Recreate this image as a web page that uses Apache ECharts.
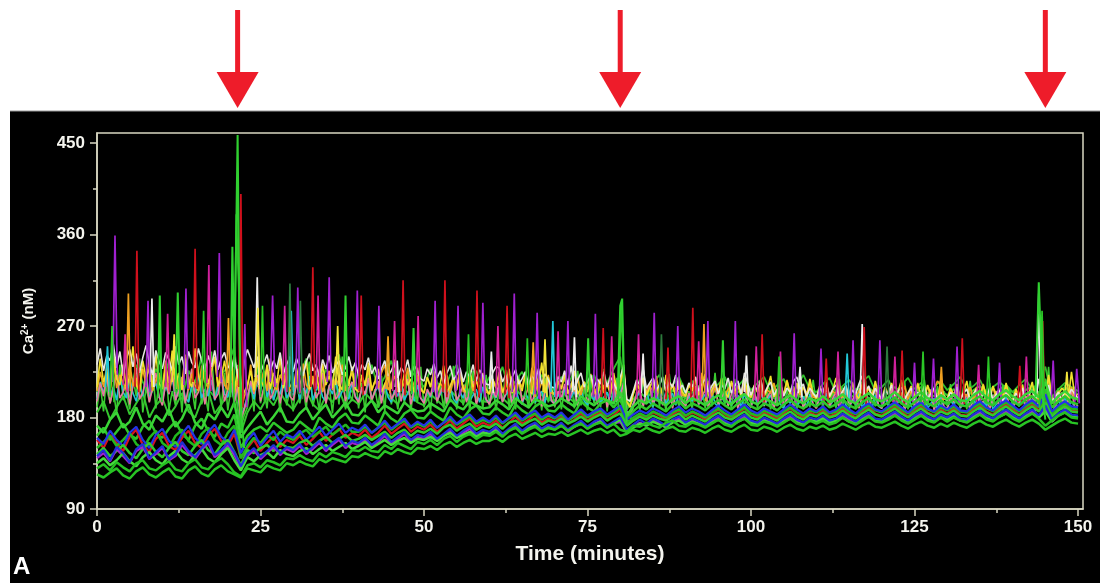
<!DOCTYPE html>
<html>
<head>
<meta charset="utf-8">
<script src="https://cdn.jsdelivr.net/npm/echarts@6/dist/echarts.min.js"></script>
<style>
  html, body { margin: 0; padding: 0; background: #ffffff; }
  #chart { width: 1100px; height: 583px; }
</style>
</head>
<body>
<div id="chart"></div>
<script>
// Axis ticks and stimulus times (minutes)
const xTicks = [0, 25, 50, 75, 100, 125, 150];
const xMinorTicks = [12.5, 37.5, 62.5, 87.5, 112.5, 137.5];
const yTicks = [90, 180, 270, 360, 450];
const yMinorTicks = [135, 225, 315, 405];
const stimulusTimes = [21.5, 80, 145];

// ---- Cells near baseline: one sample per minute (t = 0 ... 150), Ca2+ in nM ----
const MINUTE_STEP = 1;

const green1 = [
  124,121,126,130,123,120,127,131,124,121, 126,130,122,120,128,132,125,122,129,133,
  127,124,121,130,128,126,133,130,128,135, 133,137,134,132,139,136,140,138,136,142,
  141,145,142,140,147,144,149,146,144,150, 149,152,148,153,156,151,155,158,154,157,
  157,160,156,161,164,159,162,165,161,164, 163,166,162,165,168,164,167,169,165,168,
  162,164,168,166,170,167,165,169,171,167, 166,170,168,165,169,172,168,166,170,173,
  168,167,171,169,166,170,173,169,167,171, 169,172,168,170,174,171,168,172,175,171,
  170,173,176,172,169,173,176,172,170,174, 171,175,172,170,174,177,173,171,175,178,
  174,171,175,178,174,168,172,176,179,175, 174
];
const green6 = [
  130,134,128,136,131,127,135,138,130,128, 133,137,129,127,135,139,131,129,136,140,
  134,126,122,133,135,131,138,136,133,140, 139,143,139,137,145,141,146,144,141,148,
  147,151,147,146,153,149,155,152,149,156, 154,158,153,159,162,156,161,164,159,163,
  162,166,161,167,170,164,168,171,166,170, 168,172,167,171,174,169,173,175,170,174,
  168,166,172,171,175,172,170,175,177,172, 171,175,173,170,174,178,173,171,176,179,
  173,172,176,174,171,175,179,174,172,177, 174,177,173,175,180,176,173,177,181,176,
  175,178,182,177,174,178,182,177,175,180, 176,180,177,175,179,183,178,176,181,184,
  179,176,180,184,179,172,177,182,185,180, 179
];
const green2 = [
  135,140,133,138,145,137,132,141,146,138, 134,142,147,139,135,143,149,140,136,144,
  150,138,128,141,137,143,146,140,148,144, 142,147,150,144,149,153,147,151,155,149,
  152,156,150,154,158,153,157,160,155,159, 158,161,157,162,165,160,163,166,161,165,
  164,167,163,168,170,166,169,172,167,170, 169,172,168,171,174,170,173,176,171,174,
  178,166,170,174,172,176,173,171,175,177, 173,176,174,171,175,178,174,172,176,179,
  175,173,177,175,172,176,179,175,173,177, 176,179,175,177,180,176,174,178,181,177,
  176,179,182,178,175,179,182,178,176,180, 178,181,177,176,180,183,179,177,181,184,
  180,177,181,184,180,186,176,182,185,181, 180
];
const green7 = [
  144,150,142,147,153,145,140,149,155,146, 141,150,156,147,143,152,158,148,144,153,
  158,146,133,148,145,150,153,147,155,151, 150,155,158,152,157,161,155,159,163,157,
  159,163,158,162,166,160,165,168,162,167, 165,169,164,170,173,167,171,174,168,172,
  170,174,169,175,177,172,176,179,173,177, 175,179,174,177,181,176,180,183,177,181,
  184,172,177,181,178,182,179,177,181,184, 178,182,179,176,181,185,180,178,182,186,
  180,178,183,180,177,182,186,181,178,183, 181,185,180,182,187,182,179,184,188,183,
  181,185,189,184,180,185,189,184,181,186, 183,187,182,181,186,190,185,182,187,191,
  186,182,187,191,186,195,181,187,191,186, 185
];
const green3 = [
  150,156,162,152,158,165,154,149,160,167, 155,150,162,168,157,152,164,170,158,153,
  165,172,140,152,160,155,163,158,166,161, 158,164,168,161,166,171,163,168,173,166,
  166,171,165,170,175,168,173,177,170,174, 171,176,170,175,179,173,177,181,174,178,
  175,180,174,179,183,177,181,184,178,182, 179,183,177,181,186,180,184,187,181,185,
  190,174,180,184,181,186,183,180,185,188, 182,186,183,180,185,189,184,181,186,190,
  184,182,187,184,181,186,190,185,182,187, 185,189,184,186,191,186,183,188,192,187,
  185,189,193,188,184,189,193,188,185,190, 187,191,186,185,190,194,189,186,191,195,
  190,186,191,195,190,200,184,190,194,189, 188
];
const green8 = [
  162,170,158,166,174,163,159,171,177,165, 160,169,176,164,158,172,179,167,161,174,
  170,183,150,162,168,171,166,175,170,165, 168,176,171,166,180,174,170,179,184,175,
  174,182,177,172,186,179,175,184,188,180, 179,186,181,177,190,183,179,188,192,184,
  183,190,185,181,193,187,183,191,195,187, 186,193,188,184,196,190,186,194,197,190,
  198,180,186,192,188,194,190,186,193,196, 189,194,191,187,193,197,192,188,194,198,
  191,188,194,191,187,193,197,192,189,194, 191,196,190,193,198,192,189,195,199,193,
  191,195,200,194,190,195,200,194,191,197, 193,198,192,191,197,201,195,192,198,202,
  196,192,198,201,195,208,190,196,201,195, 193
];
const green4 = [
  172,165,178,185,170,176,190,174,168,182, 176,188,171,179,193,175,169,184,178,190,
  180,195,160,170,178,186,173,181,190,176, 175,184,190,178,186,193,180,187,195,183,
  182,190,197,185,192,188,184,195,189,186, 187,194,190,186,198,191,188,196,192,189,
  190,197,193,188,199,194,190,198,195,191, 193,199,195,191,201,196,192,199,197,194,
  205,182,191,197,194,199,196,192,198,201, 194,199,196,192,198,202,197,193,199,203,
  196,193,199,196,192,198,202,197,194,199, 196,201,195,198,203,197,194,200,204,198,
  196,200,205,199,195,200,205,199,196,202, 198,203,197,196,202,206,200,197,203,207,
  201,197,203,206,200,215,194,201,206,200, 198
];
const green9 = [
  185,196,178,190,201,183,194,205,180,192, 199,182,191,204,186,180,197,207,184,193,
  202,215,165,185,196,188,200,192,205,194, 188,199,206,193,187,202,195,208,190,198,
  193,204,197,190,206,199,193,208,201,195, 192,203,197,191,207,200,194,209,199,196,
  195,205,199,193,208,201,196,210,202,197, 197,206,200,195,209,202,198,211,203,199,
  212,188,198,205,199,206,201,197,207,202, 199,205,201,197,204,208,202,198,205,209,
  201,198,205,201,197,204,208,202,199,205, 201,206,200,203,209,203,199,205,210,203,
  200,205,210,204,199,205,210,204,201,207, 202,208,201,200,207,211,205,201,208,212,
  205,201,207,211,204,218,198,205,210,204, 203
];
const green5 = [
  205,218,196,225,210,200,232,215,204,228, 212,236,205,198,226,214,240,208,200,222,
  230,250,175,200,215,208,225,212,220,232, 210,222,238,215,206,228,216,242,212,205,
  225,214,232,208,220,236,212,205,226,218, 210,228,215,205,222,232,210,218,226,207,
  220,212,230,208,216,225,211,205,222,214, 206,220,212,226,208,215,222,205,214,228,
  240,190,205,218,208,214,222,206,212,220, 205,216,210,222,206,213,220,204,211,218,
  207,214,220,205,212,218,204,210,222,208, 205,213,219,204,211,217,207,215,221,206,
  210,217,204,212,219,208,214,203,210,216, 207,213,220,206,211,217,204,210,215,209,
  205,212,218,207,216,230,200,208,214,210, 206
];
const blue1 = [
  142,148,138,151,145,136,149,154,140,146, 152,139,144,156,147,141,150,157,143,148,
  155,146,132,144,150,141,147,153,145,151, 148,154,146,151,157,149,155,160,152,157,
  155,160,153,158,164,156,161,166,158,163, 161,166,159,164,169,162,167,171,164,168,
  166,171,164,169,174,167,172,175,169,173, 170,175,168,173,177,171,176,179,172,176,
  180,168,173,178,174,179,176,172,178,181, 175,179,176,173,178,182,177,174,179,183,
  177,175,180,177,174,179,183,178,175,180, 178,182,177,179,184,180,176,181,185,179,
  178,182,186,181,177,182,186,181,178,183, 180,184,179,178,183,187,182,179,184,188,
  183,179,184,188,182,192,178,184,188,183, 182
];
const blue2 = [
  160,154,167,158,152,165,171,158,150,163, 169,157,151,164,172,160,154,166,173,161,
  156,168,145,158,165,152,160,167,156,163, 160,167,158,164,171,162,168,174,165,170,
  167,173,165,170,177,169,174,179,171,176, 172,178,170,175,181,174,179,183,176,180,
  176,182,175,180,185,178,183,187,180,184, 180,185,178,183,188,182,186,189,183,187,
  192,178,183,187,184,189,186,182,187,191, 185,189,186,182,187,192,187,183,188,193,
  187,184,189,186,183,188,193,188,184,189, 186,191,185,188,193,188,184,190,194,188,
  186,191,195,190,185,191,195,189,186,192, 188,193,187,186,192,196,190,187,193,197,
  192,187,193,197,191,203,186,192,196,191, 190
];
const red1 = [
  158,150,163,155,147,161,168,153,146,159, 165,152,148,160,167,155,150,162,169,157,
  152,164,140,150,158,147,155,161,151,158, 155,162,153,159,166,157,163,169,160,165,
  162,168,160,165,172,164,169,174,166,171, 168,173,166,171,177,169,174,179,171,175,
  172,177,170,175,181,174,178,183,175,179, 176,181,174,178,184,177,182,185,178,182,
  188,174,179,183,180,185,182,178,183,187, 181,185,182,178,183,188,183,179,184,189,
  183,180,185,182,179,184,189,184,180,185, 182,187,181,184,189,184,180,186,190,184,
  182,187,191,186,181,187,191,185,182,188, 184,189,183,182,188,192,186,183,189,193,
  188,183,189,193,187,198,182,188,192,187, 186
];
const purple1 = [
  140,145,137,149,142,135,147,151,139,144, 150,138,142,153,145,139,148,155,141,146,
  153,143,130,142,148,139,145,151,143,149, 146,152,144,149,155,147,153,158,150,155,
  153,158,151,156,162,154,159,164,156,161, 159,164,157,162,167,160,165,169,162,166,
  164,169,162,167,172,165,170,173,167,171, 168,173,166,171,175,169,174,177,170,174,
  176,165,171,175,172,177,174,170,176,179, 173,177,174,171,176,180,175,172,177,181,
  175,173,178,175,172,177,181,176,173,178, 176,180,175,177,182,178,174,179,183,177,
  176,180,184,179,175,180,184,179,176,181, 178,182,177,176,181,185,180,177,182,186,
  181,177,182,186,180,190,176,182,186,181, 180
];

// ---- Active cells: two samples per minute (t = 0, 0.5 ... 150) ----
const HALF_MINUTE_STEP = 0.5;

const yellow1 = [
  210,238,215,225,206,244,218,212,232,208,221,250,212,206,236,219,228,210,242,214,
  208,230,214,246,211,224,207,238,216,210,248,222,209,233,213,226,240,211,219,236,
  214,242,205,228,190,205,212,226,207,236,218,210,232,208,224,214,239,209,221,212,
  207,229,213,220,236,208,215,226,206,233,212,221,209,240,214,207,225,211,230,208,
  206,222,211,234,207,216,228,205,213,220,208,237,210,206,224,212,218,205,229,209,
  204,220,210,226,206,214,231,205,211,219,207,224,209,204,227,210,216,205,222,208,
  203,218,209,225,205,212,228,204,210,217,206,222,208,203,230,209,234,204,220,207,
  202,216,208,223,204,211,226,203,209,215,205,221,207,202,218,208,213,203,224,206,
  212,232,196,190,203,214,208,219,202,210,216,204,212,202,222,206,211,201,217,205,
  201,213,206,220,202,209,223,201,207,214,203,218,205,200,216,206,211,201,219,204,
  200,212,205,217,201,208,221,200,206,213,202,216,204,199,214,205,210,200,218,203,
  199,211,204,215,200,207,219,199,205,212,201,214,203,198,213,204,209,199,216,202,
  198,210,203,214,199,206,217,198,204,211,200,213,202,197,212,203,208,198,215,201,
  198,209,202,213,198,205,216,197,203,210,199,212,201,197,211,202,207,198,214,200,
  197,208,201,212,198,204,215,197,202,209,196,222,200,192,203,209,206,197,225,201,
  203
];
const orange1 = [
  206,225,210,231,204,238,209,222,214,207,235,211,219,205,228,212,240,206,217,224,
  210,236,205,220,229,208,214,242,207,223,212,206,231,215,209,226,238,210,230,212,
  207,228,203,217,185,200,209,232,205,219,213,226,206,238,211,207,222,214,229,206,
  209,224,205,233,212,207,221,209,228,205,215,226,207,219,211,232,206,217,224,208,
  205,220,212,227,206,216,209,224,232,207,213,221,205,218,210,229,206,215,222,207,
  204,219,210,225,205,214,208,222,204,217,211,227,205,213,220,206,216,209,224,205,
  203,218,209,223,204,213,207,221,203,216,210,225,204,229,219,205,215,208,222,204,
  202,216,208,221,203,212,206,219,202,215,209,223,203,211,218,204,214,207,220,203,
  214,226,195,192,204,212,207,218,202,211,206,221,203,210,215,204,213,206,218,202,
  201,212,206,217,202,224,205,216,201,209,204,219,202,208,213,203,211,205,216,201,
  200,210,205,215,201,207,204,214,200,208,203,217,201,207,212,202,210,204,214,200,
  199,209,204,213,200,206,203,212,199,207,202,215,200,206,211,201,209,203,213,199,
  198,208,203,212,199,205,202,211,198,206,201,214,199,205,210,200,208,216,212,198,
  198,207,202,211,198,204,201,210,197,205,200,213,198,204,209,199,207,202,211,198,
  197,206,201,210,197,203,200,209,196,204,198,220,194,200,206,198,205,201,210,197,
  200
];
const white1 = [
  232,248,226,241,236,252,229,245,221,238,247,230,243,224,239,251,233,222,246,235,
  228,244,237,226,250,232,240,223,245,234,229,248,236,225,241,230,246,227,238,244,
  231,226,240,222,205,235,247,238,229,240,224,233,242,226,236,228,244,223,232,240,
  225,238,230,221,235,243,226,232,220,237,228,241,224,231,236,222,229,240,226,234,
  221,232,227,239,223,230,218,228,236,221,226,234,219,229,224,237,220,231,226,218,
  216,228,222,233,219,226,213,224,231,217,222,229,215,225,220,232,216,227,221,213,
  212,224,230,229,215,222,210,220,227,213,218,225,212,221,216,228,213,223,217,210,
  209,220,215,226,212,231,207,217,224,210,215,222,209,218,213,225,210,220,214,207,
  220,230,198,196,206,217,212,228,209,214,219,207,212,220,206,215,210,222,207,212,
  204,214,210,220,206,213,218,205,211,216,203,212,208,219,204,211,216,203,224,213,
  202,211,207,217,203,210,215,202,208,213,201,209,205,216,220,208,213,201,209,204,
  200,209,205,214,201,208,212,200,206,211,199,207,203,213,221,206,211,199,209,203,
  198,207,203,212,199,206,210,198,204,209,197,205,201,211,198,204,209,197,205,201,
  197,205,201,210,198,204,208,197,203,208,196,204,200,209,197,203,207,196,204,200,
  196,204,200,209,197,203,207,196,218,206,195,212,196,200,205,197,206,201,208,203,
  199
];
const cyan1 = [
  198,215,203,226,200,210,197,221,205,199,218,204,196,212,201,224,199,207,214,200,
  197,211,203,220,198,206,216,200,195,213,204,223,199,208,201,217,197,210,222,203,
  200,214,196,209,180,190,201,212,198,218,205,226,200,211,197,208,203,219,199,206,
  202,215,198,209,204,221,197,207,213,200,196,210,203,218,199,206,211,198,215,201,
  197,208,202,216,198,205,211,197,213,200,195,207,201,214,197,204,210,196,212,199,
  196,206,200,213,197,203,209,195,211,198,194,205,199,212,196,202,208,195,210,197,
  195,205,199,211,196,202,207,194,209,197,193,204,198,210,195,201,206,194,216,196,
  194,203,198,209,195,200,206,193,208,196,192,203,197,209,194,200,205,193,207,195,
  205,212,185,186,194,200,205,192,207,195,191,202,196,208,193,199,204,192,206,194,
  192,201,196,207,193,198,203,191,205,194,190,200,195,206,192,197,202,190,204,193,
  191,200,195,206,192,197,202,190,204,193,189,199,194,205,191,196,201,190,203,192,
  190,199,194,204,191,196,201,189,203,192,188,198,193,204,190,195,200,189,202,191,
  189,198,193,203,190,195,200,188,202,191,188,197,192,203,189,194,199,188,201,190,
  189,197,192,202,189,194,199,188,201,190,187,196,191,202,188,193,198,187,200,189,
  188,196,191,201,188,193,198,187,200,189,186,205,183,190,197,188,199,191,196,190,
  192
];
const pink1 = [
  196,214,201,222,194,208,226,199,205,217,193,211,229,198,204,219,195,209,224,200,
  192,215,203,226,197,206,220,194,210,228,199,205,218,193,212,225,198,203,221,196,
  207,224,195,211,178,188,199,216,203,222,196,209,230,198,205,218,194,212,226,201,
  197,213,204,222,195,208,219,199,206,224,193,211,217,198,203,221,196,209,215,200,
  195,210,203,219,197,206,216,194,212,221,198,204,214,196,209,218,193,207,220,199,
  194,208,201,217,196,205,213,193,210,219,197,203,212,195,207,216,192,206,218,198,
  193,207,200,215,195,204,211,192,209,217,196,202,210,194,206,214,191,205,216,197,
  192,206,199,213,194,203,210,191,208,215,195,201,209,193,205,212,190,204,214,196,
  200,214,184,182,193,202,208,190,206,213,194,200,207,192,204,211,189,203,212,195,
  191,204,198,211,193,201,207,189,205,212,193,199,206,191,203,210,188,202,211,194,
  190,203,197,210,192,200,206,188,204,211,192,198,205,190,202,209,188,201,210,193,
  189,202,196,209,191,199,205,188,203,210,191,197,204,189,201,208,187,200,209,192,
  189,201,195,208,190,198,204,187,202,209,190,196,203,189,200,207,187,199,208,191,
  188,200,195,207,190,197,203,187,201,208,190,196,202,188,199,206,186,198,207,191,
  188,199,194,206,189,197,202,186,200,207,189,203,182,190,198,205,186,197,206,190,
  192
];
const green10 = [
  190,212,186,225,194,208,183,232,197,205,188,219,201,238,185,209,196,227,189,214,
  199,234,187,206,192,221,185,240,196,210,188,228,193,204,186,245,198,215,190,224,
  187,210,195,232,170,182,190,216,186,236,194,208,189,225,197,213,185,230,192,207,
  186,222,194,209,188,235,191,205,187,228,195,212,184,219,193,240,188,206,196,224,
  189,214,185,229,195,208,190,221,186,233,193,207,188,218,194,227,187,211,195,230,
  190,206,186,224,194,212,189,219,195,231,188,208,192,217,186,226,195,210,189,222,
  191,215,187,208,196,227,190,213,188,220,194,206,189,225,193,211,187,218,195,209,
  190,221,188,207,195,214,189,226,192,209,187,217,194,205,190,228,186,212,193,219,
  196,232,178,176,190,205,187,220,193,211,188,216,191,207,186,223,194,209,189,214,
  192,206,188,219,194,210,189,215,191,224,187,208,193,212,188,218,192,206,189,213,
  193,209,189,216,191,205,188,213,192,220,189,207,194,211,187,215,191,206,190,217,
  191,210,188,214,193,206,189,218,190,208,192,213,188,209,193,216,189,205,191,212,
  192,207,189,213,190,209,193,215,188,206,191,212,189,217,192,208,190,211,188,206,
  191,213,189,207,192,211,188,216,190,208,193,210,189,214,191,206,188,212,192,209,
  190,208,191,213,189,206,192,211,190,215,188,230,180,196,209,191,212,189,207,210,
  195
];

// ---- Transient spikes: each spike is a short run of [time (min), Ca2+ (nM)] points ----
const purpleSpikes = [
  [[2.4,215],[2.75,359],[3.1,222]], [[7.5,210],[7.8,295],[8.1,205]],
  [[13.3,212],[13.6,307],[13.9,208]], [[18.4,220],[18.7,342],[19.0,215]],
  [[22.3,200],[22.6,272],[22.9,190]], [[26.5,215],[26.85,300],[27.2,210]],
  [[30.4,212],[30.7,308],[31.0,205]], [[35.2,215],[35.5,318],[35.8,208]],
  [[39.5,210],[39.8,305],[40.1,206]], [[42.8,208],[43.1,290],[43.4,203]],
  [[51.4,205],[51.7,295],[52.0,200]], [[54.9,206],[55.2,290],[55.5,202]],
  [[58.7,204],[59.0,293],[59.3,200]], [[63.5,205],[63.8,302],[64.1,200]],
  [[67.0,203],[67.3,283],[67.6,198]], [[71.7,202],[72.0,275],[72.3,198]],
  [[75.9,200],[76.2,282],[76.5,196]], [[84.9,200],[85.2,283],[85.5,196]],
  [[88.5,198],[88.8,270],[89.1,195]], [[93.1,200],[93.4,275],[93.7,196]],
  [[97.3,198],[97.6,275],[97.9,195]], [[106.3,198],[106.6,263],[106.9,194]],
  [[110.4,196],[110.7,248],[111.0,193]], [[115.3,197],[115.6,256],[115.9,194]],
  [[119.4,196],[119.7,256],[120.0,193]], [[124.7,195],[125.0,234],[125.3,192]],
  [[127.6,196],[127.9,238],[128.2,193]], [[131.2,196],[131.5,250],[131.8,193]],
  [[137.7,195],[138.0,234],[138.3,192]], [[145.9,196],[146.2,236],[146.5,192]],
  [[149.5,195],[149.8,228],[150.2,194]]
];
const magentaSpikes = [
  [[4.0,212],[4.3,262],[4.6,205]], [[10.5,210],[10.8,282],[11.1,205]],
  [[16.8,214],[17.1,330],[17.4,206]], [[28.4,212],[28.7,290],[29.0,205]],
  [[33.5,208],[33.8,300],[34.1,203]], [[45.2,206],[45.5,275],[45.8,200]],
  [[48.8,205],[49.1,280],[49.4,200]], [[61.0,202],[61.3,270],[61.6,198]],
  [[70.2,200],[70.5,265],[70.8,196]], [[78.4,200],[78.7,260],[79.0,196]],
  [[82.5,198],[82.8,262],[83.1,195]], [[91.7,198],[92.0,255],[92.3,195]],
  [[100.5,197],[100.8,250],[101.1,194]], [[104.2,197],[104.5,245],[104.8,193]],
  [[113.0,196],[113.3,245],[113.6,193]], [[121.7,195],[122.0,240],[122.3,192]],
  [[134.5,195],[134.8,232],[135.1,192]], [[141.8,195],[142.1,240],[142.4,192]]
];
const redSpikes = [
  [[5.8,210],[6.1,344],[6.4,205]], [[14.7,215],[15.0,346],[15.3,208]],
  [[21.7,210],[22.0,400],[22.3,190]], [[32.7,210],[33.0,328],[33.3,205]],
  [[40.1,206],[40.4,300],[40.7,202]], [[46.5,206],[46.8,315],[47.1,202]],
  [[52.9,205],[53.2,315],[53.5,200]], [[57.8,204],[58.1,305],[58.4,200]],
  [[62.4,203],[62.7,290],[63.0,199]], [[77.1,200],[77.4,268],[77.7,196]],
  [[87.0,198],[87.3,249],[87.6,195]], [[90.8,199],[91.1,288],[91.4,195]],
  [[101.4,197],[101.7,262],[102.0,194]], [[111.2,196],[111.5,238],[111.8,193]],
  [[117.0,197],[117.3,269],[117.6,193]], [[122.8,196],[123.1,246],[123.4,193]],
  [[132.0,196],[132.3,258],[132.6,193]], [[140.8,195],[141.1,231],[141.4,192]],
  [[144.3,198],[144.6,275],[144.9,192]]
];
const greenSpikesA = [
  [[9.3,200],[9.6,300],[9.9,195]], [[12.0,205],[12.35,303],[12.7,198]],
  [[20.4,200],[20.7,348],[21.0,230],[21.5,458],[21.8,260],[22.1,180],[22.5,150]],
  [[37.7,205],[38.0,300],[38.3,200]], [[48.1,203],[48.4,268],[48.7,198]],
  [[74.8,200],[75.1,258],[75.4,196]],
  [[79.6,200],[80.0,290],[80.3,297],[80.6,210],[81.0,175]],
  [[95.4,198],[95.7,256],[96.0,194]],
  [[143.5,200],[144.0,313],[144.3,260],[144.6,200],[145.0,178]]
];
const greenSpikesB = [
  [[2.0,200],[2.3,270],[2.6,195]], [[16.0,205],[16.3,285],[16.6,200]],
  [[20.9,190],[21.3,380],[21.7,300],[22.0,170]], [[25.0,200],[25.3,290],[25.6,196]],
  [[56.5,200],[56.8,262],[57.1,196]], [[65.5,200],[65.8,258],[66.1,196]],
  [[79.7,190],[80.2,292],[80.7,185]], [[104.0,197],[104.3,240],[104.6,194]],
  [[126.0,195],[126.3,245],[126.6,192]], [[136.0,195],[136.3,240],[136.6,192]],
  [[144.1,190],[144.5,285],[144.9,185]]
];
const darkGreenSpikes = [
  [[29.2,205],[29.5,312],[29.8,200]], [[30.8,203],[31.1,295],[31.4,198]],
  [[86.0,198],[86.3,262],[86.6,195]], [[120.5,196],[120.8,250],[121.1,193]]
];
const whiteSpikes = [
  [[8.1,215],[8.4,297],[8.7,210]], [[24.2,220],[24.5,318],[24.8,212]],
  [[45.6,210],[45.9,236],[46.2,205]], [[60.0,208],[60.3,245],[60.6,204]],
  [[72.7,205],[73.0,259],[73.3,200]], [[83.2,204],[83.5,243],[83.8,200]],
  [[99.0,205],[99.3,241],[99.6,200]], [[107.2,204],[107.5,230],[107.8,200]],
  [[116.7,204],[117.0,272],[117.3,200]], [[143.7,205],[144.0,302],[144.3,200]]
];
const orangeSpikes = [
  [[4.5,212],[4.8,302],[5.1,206]], [[19.8,210],[20.1,278],[20.4,205]],
  [[44.2,208],[44.5,260],[44.8,204]], [[66.4,205],[66.7,254],[67.0,200]],
  [[92.5,200],[92.8,272],[93.1,196]], [[128.8,198],[129.1,230],[129.4,195]]
];
const yellowSpikes = [
  [[11.5,215],[11.8,262],[12.1,208]], [[24.3,215],[24.6,288],[24.9,208]],
  [[36.5,212],[36.8,270],[37.1,205]], [[68.2,205],[68.5,257],[68.8,200]],
  [[148.0,200],[148.3,225],[148.6,196]]
];
const cyanSpikes = [
  [[1.3,210],[1.6,250],[1.9,205]], [[29.4,210],[29.7,285],[30.0,205]],
  [[69.4,205],[69.7,275],[70.0,200]], [[114.4,200],[114.7,243],[115.0,196]]
];

const AXIS_COLOR = '#d9d7c2';
const LABEL_COLOR = '#f4f4ee';
const FONT = '"Liberation Sans", Arial, Helvetica, sans-serif';

function sampledSeries(values, step, color, width) {
  return {
    type: 'line',
    data: values.map((v, i) => [i * step, v]),
    showSymbol: false, symbol: 'none', silent: true, animation: false,
    lineStyle: { color: color, width: width }
  };
}
// Each spike is drawn as its own stroke: a null point separates consecutive spikes
function spikeSeries(spikes, color, width) {
  const data = [];
  spikes.forEach((points, k) => {
    if (k > 0) data.push([points[0][0], null]);
    points.forEach(p => data.push(p));
  });
  return {
    type: 'line', data: data, connectNulls: false,
    showSymbol: false, symbol: 'none', silent: true, animation: false,
    lineStyle: { color: color, width: width || 1.7 }
  };
}

// Drawing order: later series are painted on top
const series = [
  sampledSeries(green9, MINUTE_STEP, '#34c62e', 2),
  sampledSeries(green5, MINUTE_STEP, '#2fbf2a', 1.8),
  sampledSeries(green10, HALF_MINUTE_STEP, '#3acc30', 1.6),
  sampledSeries(cyan1, HALF_MINUTE_STEP, '#1fc3d2', 1.6),
  sampledSeries(pink1, HALF_MINUTE_STEP, '#e87a9c', 1.6),
  sampledSeries(orange1, HALF_MINUTE_STEP, '#eea21e', 1.6),
  sampledSeries(yellow1, HALF_MINUTE_STEP, '#efe02a', 1.6),
  sampledSeries(white1, HALF_MINUTE_STEP, '#e6e6e0', 1.6),
  spikeSeries(whiteSpikes, '#ececec'),
  spikeSeries(orangeSpikes, '#f0a020'),
  spikeSeries(yellowSpikes, '#f2e43a'),
  spikeSeries(cyanSpikes, '#22c8d8'),
  spikeSeries(darkGreenSpikes, '#2c7a3c'),
  spikeSeries(magentaSpikes, '#d0209c'),
  spikeSeries(purpleSpikes, '#a020d0'),
  spikeSeries(redSpikes, '#d0101c'),
  sampledSeries(green8, MINUTE_STEP, '#2ec82a', 2.5),
  sampledSeries(green4, MINUTE_STEP, '#3ad536', 2.5),
  sampledSeries(red1, MINUTE_STEP, '#d8141e', 2.2),
  sampledSeries(green3, MINUTE_STEP, '#22b81e', 2.5),
  sampledSeries(blue2, MINUTE_STEP, '#2433e6', 2.2),
  sampledSeries(green7, MINUTE_STEP, '#30cc2c', 2.5),
  sampledSeries(purple1, MINUTE_STEP, '#a020d0', 2.2),
  sampledSeries(green2, MINUTE_STEP, '#44dc3c', 2.5),
  sampledSeries(blue1, MINUTE_STEP, '#2030d8', 2.2),
  sampledSeries(green6, MINUTE_STEP, '#26c022', 2.5),
  sampledSeries(green1, MINUTE_STEP, '#28c424', 2.5),
  spikeSeries(greenSpikesB, '#2ac626'),
  spikeSeries(greenSpikesA, '#30d030', 2)
];

const chart = echarts.init(document.getElementById('chart'), null, { renderer: 'canvas' });

chart.setOption({
  backgroundColor: '#000000',
  animation: false,
  grid: {
    left: 97, right: 17, top: 133, bottom: 74,
    show: true, borderColor: AXIS_COLOR, borderWidth: 1.5, backgroundColor: 'transparent'
  },
  xAxis: [
    {
      type: 'value', min: 0, max: 150.76, position: 'bottom',
      name: 'Time (minutes)', nameLocation: 'middle', nameGap: 35,
      nameTextStyle: { color: LABEL_COLOR, fontSize: 21, fontWeight: 'bold', fontFamily: FONT },
      axisLine: { show: true, lineStyle: { color: AXIS_COLOR, width: 1.5 } },
      axisTick: { show: true, customValues: xTicks, length: 7, lineStyle: { color: AXIS_COLOR, width: 1.5 } },
      axisLabel: { customValues: xTicks, color: LABEL_COLOR, fontSize: 17, fontWeight: 'bold', fontFamily: FONT, margin: 10 },
      splitLine: { show: false }
    },
    {
      type: 'value', min: 0, max: 150.76, position: 'bottom',
      axisLine: { show: false },
      axisTick: { show: true, customValues: xMinorTicks, length: 4, lineStyle: { color: AXIS_COLOR, width: 1.5 } },
      axisLabel: { show: false },
      splitLine: { show: false }
    }
  ],
  yAxis: [
    {
      type: 'value', min: 90, max: 460, position: 'left',
      name: 'Ca{s|2+} (nM)', nameLocation: 'middle', nameGap: 60,
      nameTextStyle: {
        color: LABEL_COLOR, fontSize: 15, fontWeight: 'bold', fontFamily: FONT,
        rich: { s: { fontSize: 10, fontWeight: 'bold', color: LABEL_COLOR, fontFamily: FONT, padding: [0, 0, 7, 0] } }
      },
      axisLine: { show: true, lineStyle: { color: AXIS_COLOR, width: 1.5 } },
      axisTick: { show: true, customValues: yTicks, length: 7, lineStyle: { color: AXIS_COLOR, width: 1.5 } },
      axisLabel: { customValues: yTicks, color: LABEL_COLOR, fontSize: 17, fontWeight: 'bold', fontFamily: FONT, margin: 12 },
      splitLine: { show: false }
    },
    {
      type: 'value', min: 90, max: 460, position: 'left',
      axisLine: { show: false },
      axisTick: { show: true, customValues: yMinorTicks, length: 4, lineStyle: { color: AXIS_COLOR, width: 1.5 } },
      axisLabel: { show: false },
      splitLine: { show: false }
    }
  ],
  series: series
});

// Page frame, panel letter and stimulus arrows above the plot
const graphics = [
  { type: 'rect', shape: { x: 0, y: 0, width: 1100, height: 111 }, style: { fill: '#ffffff' }, silent: true },
  { type: 'rect', shape: { x: 0, y: 0, width: 10, height: 583 }, style: { fill: '#ffffff' }, silent: true },
  { type: 'line', shape: { x1: 10, y1: 111, x2: 1100, y2: 111 }, style: { stroke: '#9a9a9a', lineWidth: 1.2 }, silent: true },
  { type: 'text', left: 13, top: 555, style: { text: 'A', fill: '#ffffff', font: 'bold 24px ' + FONT }, silent: true }
];
stimulusTimes.forEach(function (t) {
  const x = chart.convertToPixel({ xAxisIndex: 0 }, t);
  graphics.push({ type: 'rect', shape: { x: x - 2.5, y: 10, width: 5, height: 66 }, style: { fill: '#ee1c2a' }, silent: true });
  graphics.push({ type: 'polygon', shape: { points: [[x - 21, 72], [x + 21, 72], [x, 108]] }, style: { fill: '#ee1c2a' }, silent: true });
});
chart.setOption({ graphic: { elements: graphics } });
</script>
</body>
</html>
